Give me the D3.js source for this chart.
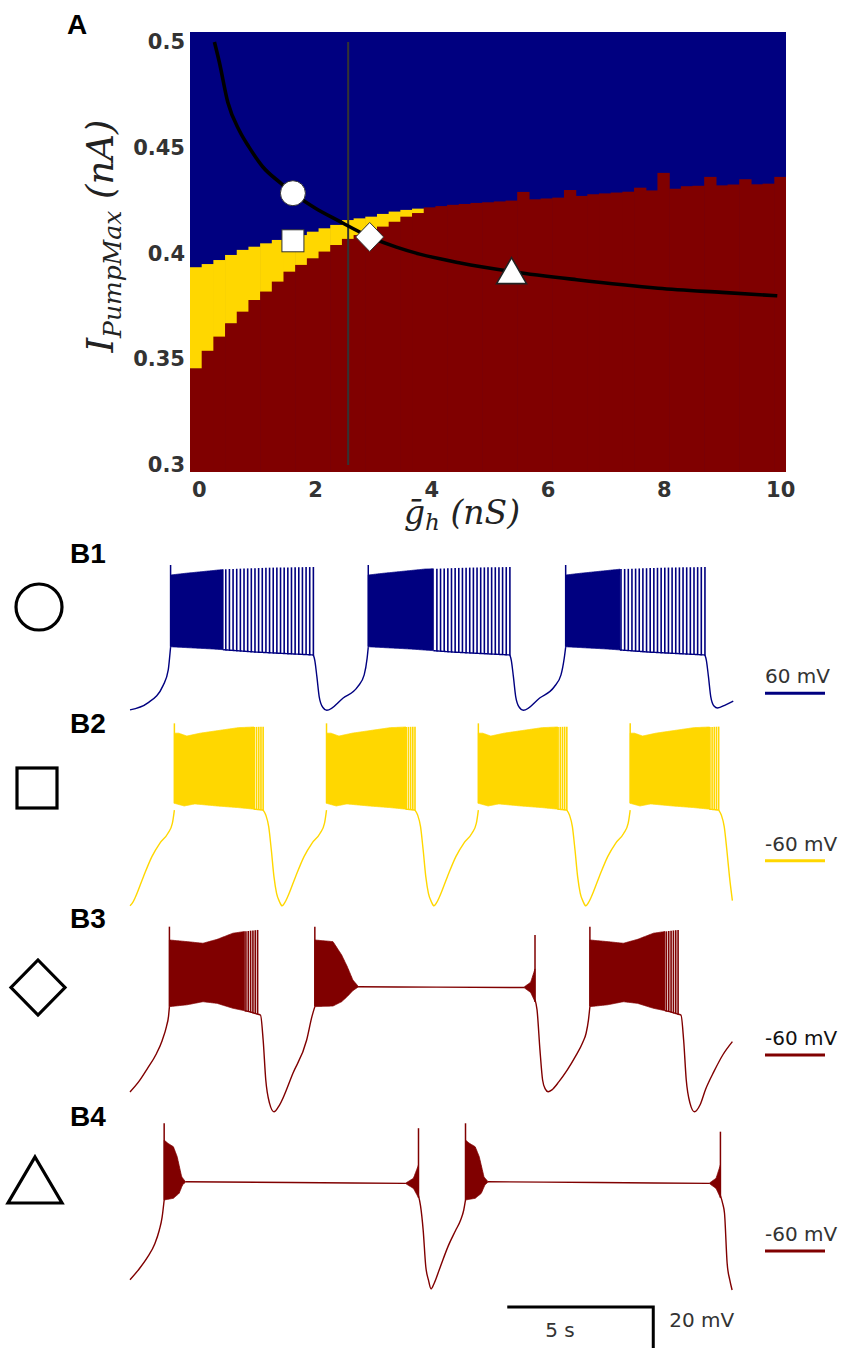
<!DOCTYPE html>
<html><head><meta charset="utf-8">
<script src="https://cdn.jsdelivr.net/npm/d3@7"></script>
<style>body{margin:0;background:#fff}svg{display:block}</style>
</head><body>
<svg id="chart" width="851" height="1355"></svg>
<script>
// ================= PANEL A DATA =================
const ghGrid = [0,0.2,0.4,0.6,0.8,1,1.2,1.4,1.6,1.8,2,2.2,2.4,2.6,2.8,3,3.2,3.4,3.6,3.8,4,4.2,4.4,4.6,4.8,5,5.2,5.4,5.6,5.8,6,6.2,6.4,6.6,6.8,7,7.2,7.4,7.6,7.8,8,8.2,8.4,8.6,8.8,9,9.2,9.4,9.6,9.8,10];
// upper edge of the red (maroon) region for each gh column (nA)
const redTop = [0.3457,0.3540,0.3607,0.3670,0.3725,0.3780,0.3820,0.3867,0.3914,0.3946,0.3977,0.4009,0.4040,0.4069,0.4087,0.4103,0.4127,0.4150,0.4174,0.4191,
  0.4218,0.4224,0.4230,0.4234,0.4239,0.4242,0.4246,0.4250,0.4291,0.4256,0.4260,0.4264,0.4300,0.4272,0.4280,0.4284,0.4288,0.4292,0.4311,0.4298,
  0.4381,0.4306,0.4318,0.4320,0.4362,0.4322,0.4326,0.4351,0.4327,0.4330,0.4362];
// upper edge of the yellow region (first columns only)
const yellowTop = [0.3935,0.3950,0.3969,0.3993,0.4017,0.4032,0.4048,0.4064,0.4077,0.4087,0.4103,0.4119,0.4135,0.4158,0.4166,0.4174,0.4187,0.4198,0.4206,0.4212];
// black iso-curve
const isoCurve = [[0.27,0.500],[0.35,0.491],[0.5,0.4715],[0.7,0.458],[0.86,0.4505],[1.1,0.441],[1.4,0.4335],[1.62,0.4285],[2.0,0.4215],[2.4,0.4155],[2.93,0.408],[3.4,0.4030],[3.8,0.3997],[4.5,0.3955],[5.4,0.3914],[6.5,0.3876],[7.9,0.3836],[9.0,0.3816],[9.95,0.3800]];
const circlePt = [1.62, 0.4285];
const squarePt = [1.62, 0.4060];
const diamondPt = [2.94, 0.4078];
const trianglePt = [5.38, 0.3900];
const vLineGh = 2.57;
const xTicks = [0,2,4,6,8,10];
const yTicks = [0.3,0.35,0.4,0.45,0.5];
const yTickLabels = ["0.3","0.35","0.4","0.45","0.5"];

// ================= PANEL B DATA (t in s, V in mV) =================
// B1
const b1Segs = [
  [[0,-68.1],[0.6,-64.8],[1.14,-56],[1.31,-48.6],[1.37,-40.5],[1.39,-37.5]],
  [[6.28,-41.3],[6.33,-44],[6.4,-51.9],[6.48,-61.7],[6.6,-66.8],[6.74,-68.3],[7.3,-62.3],[7.8,-56.8],[8.02,-51],[8.12,-43],[8.16,-37.5]],
  [[13.01,-41.3],[13.06,-44],[13.13,-51.9],[13.21,-61.7],[13.33,-66.8],[13.47,-68.3],[14.03,-62.3],[14.53,-56.8],[14.76,-51],[14.87,-43],[14.92,-37.5]],
  [[19.69,-41.3],[19.74,-44],[19.81,-51.9],[19.89,-61.7],[20.0,-66.2],[20.12,-67.2],[20.4,-65.6],[20.66,-63.8]]
];
const b1Bursts = [[1.39,3.19,6.28],[8.16,10.39,13.01],[14.92,16.78,19.69]];
const b1Top = [[0,-2.3],[0.1,-1.5],[0.4,0.6],[0.7,1.3],[1,1.6]];
const b1Bot = [[0,-37.3],[0.3,-38.4],[0.6,-39.9],[1,-41.3]];
const b1Peak = 2.6, b1Isi = 0.125;

// B2
const b2Segs = [
  [[0,-82.0],[0.09,-80.5],[0.19,-77.6],[0.46,-67.8],[0.75,-58.0],[1.02,-51.5],[1.3,-46.6],[1.45,-41.8],[1.52,-35.3]],
  [[4.56,-35.3],[4.65,-37.7],[4.75,-43.4],[4.84,-54.8],[4.93,-67.8],[5.02,-75.9],[5.12,-80.0],[5.21,-82.0],[5.3,-80.5],[5.4,-77.6],[5.67,-67.8],[5.96,-58.0],[6.23,-51.5],[6.51,-46.6],[6.66,-41.8],[6.73,-35.3]],
  [[9.76,-35.3],[9.85,-37.7],[9.95,-43.4],[10.04,-54.8],[10.13,-67.8],[10.22,-75.9],[10.32,-80.0],[10.41,-82.0],[10.5,-80.5],[10.6,-77.6],[10.87,-67.8],[11.16,-58.0],[11.43,-51.5],[11.71,-46.6],[11.86,-41.8],[11.93,-35.3]],
  [[14.96,-35.3],[15.05,-37.7],[15.15,-43.4],[15.24,-54.8],[15.33,-67.8],[15.42,-75.9],[15.52,-80.0],[15.61,-82.0],[15.7,-80.5],[15.8,-77.6],[16.07,-67.8],[16.36,-58.0],[16.63,-51.5],[16.91,-46.6],[17.06,-41.8],[17.13,-35.3]],
  [[20.16,-35.3],[20.25,-37.7],[20.35,-43.4],[20.44,-54.8],[20.53,-67.8],[20.63,-79.5]]
];
const b2Bursts = [[1.52,4.25,4.56],[6.73,9.45,9.76],[11.93,14.65,14.96],[17.13,19.85,20.16]];
const b2Top = [[0,2.2],[0.05,2.2],[0.14,0.8],[0.29,2.2],[0.48,3.4],[0.72,4.9],[1,5.4]];
const b2Bot = [[0,-32.0],[0.11,-33.3],[0.23,-32.3],[0.48,-33.3],[0.72,-34.1],[1,-35.3]];
const b2Peak = 7.0, b2Isi = 0.075;

// B3
const b3Segs = [
  [[0,-78],[0.3,-73],[0.6,-66.5],[0.9,-59.5],[1.1,-53],[1.25,-46],[1.32,-41],[1.35,-36.4]],
  [[4.37,-40.1],[4.47,-40.5],[4.56,-52.7],[4.65,-72.2],[4.78,-83.6],[4.93,-87.7],[5.12,-84.4],[5.58,-68.9],[6.05,-52.7],[6.23,-41.3],[6.33,-36.4]],
  [[7.81,-26.7],[10.5,-26.9],[13.5,-27.1]],
  [[13.87,-33],[13.94,-38],[14.04,-57.6],[14.13,-72.2],[14.22,-76.5],[14.32,-77.9],[14.45,-77],[14.69,-73.0],[15.25,-60.8],[15.5,-54],[15.62,-49.4],[15.7,-43],[15.75,-36.4]],
  [[18.77,-40.1],[18.87,-40.5],[18.96,-52.7],[19.05,-72.2],[19.18,-83.6],[19.33,-87.7],[19.52,-84.4],[19.71,-76.8],[20.0,-68],[20.3,-60],[20.63,-53.5]]
];
const b3Bursts = [[1.35,3.92,4.37],[15.75,18.32,18.77]];
const b3Top = [[0,-3.9],[0.2,-4.7],[0.38,-5.5],[0.54,-3.6],[0.72,-0.6],[0.91,0.6],[1,1.0]];
const b3Bot = [[0,-36.4],[0.2,-35.5],[0.38,-34.0],[0.54,-34.8],[0.72,-37.2],[0.91,-38.9],[1,-40.1]];
const b3Peak = 2.6, b3Isi = 0.08;
const b3DecayBursts = [[6.33,7.81]];
const b3DecayTop = [[0,-3.9],[0.42,-4.7],[0.62,-11.2],[0.75,-16.9],[0.88,-23.4],[1,-26.4]];
const b3DecayBot = [[0,-36.4],[0.42,-36.1],[0.62,-34.0],[0.75,-31.5],[0.88,-28.6],[1,-26.9]];
const b3EndBursts = [[13.5,13.87]];
const b3EndPeaks = [-1.5];
const endTop = [[0,-26.8],[0.6,-24.5],[1,-18]];
const endBot = [[0,-27.2],[0.6,-29.5],[1,-34]];

// B4
const b4Segs = [
  [[0,-74],[0.3,-69],[0.6,-63],[0.85,-56.5],[1.0,-50],[1.1,-43.5],[1.17,-35.1]],
  [[1.9,-26.2],[5.5,-26.6],[9.45,-27.0]],
  [[9.88,-33],[9.95,-38],[10.04,-49.8],[10.13,-67.7],[10.22,-74.1],[10.31,-78.5],[10.41,-76],[10.62,-68],[10.9,-57.5],[11.15,-50],[11.32,-45],[11.43,-40],[11.49,-35.1]],
  [[12.26,-26.2],[16,-26.6],[19.85,-27.0]],
  [[20.22,-33],[20.3,-37],[20.36,-41.6],[20.45,-66],[20.54,-74.1],[20.62,-79]]
];
const b4DecayBursts = [[1.17,1.90],[11.49,12.26]];
const b4DecayTop = [[0,-5.9],[0.18,-7.5],[0.43,-9.1],[0.61,-14.0],[0.82,-23.8],[1,-26.2]];
const b4DecayBot = [[0,-35.1],[0.43,-34.3],[0.7,-31.9],[0.86,-27.8],[1,-26.4]];
const b4Peak = 2.3;
const b4EndBursts = [[9.45,9.88],[19.85,20.22]];
const b4EndPeaks = [-0.1,-1.8];

const scaleBarT = [12.92, 17.92];   // 5 s
const scaleBarMV = 20;

// ================= DRAW =================
const svg = d3.select('#chart');
const blueC = '#000080', yellowC = '#FFD700', redC = '#800000';

// ---- Panel A ----
const xA = d3.scaleLinear().domain([-0.15, 10.1]).range([190, 786]);
const yA = d3.scaleLinear().domain([0.2967, 0.5047]).range([472, 32]);
const xBand = d3.scaleBand().domain(ghGrid).range([190, 786]).padding(0);
const gA = svg.append('g');
gA.append('rect').attr('x', 190).attr('y', yA(0.5047)).attr('width', 596).attr('height', yA(0.2967) - yA(0.5047)).attr('fill', blueC);
ghGrid.forEach((g, i) => {
  if (i < yellowTop.length) {
    gA.append('rect').attr('x', xBand(g)).attr('width', xBand.bandwidth() + 0.6)
      .attr('y', yA(yellowTop[i])).attr('height', yA(redTop[i]) - yA(yellowTop[i]) + 0.5).attr('fill', yellowC);
  }
  gA.append('rect').attr('x', xBand(g)).attr('width', xBand.bandwidth() + (i < ghGrid.length - 1 ? 0.6 : 0))
    .attr('y', yA(redTop[i])).attr('height', yA(0.2967) - yA(redTop[i])).attr('fill', redC);
});
gA.append('line').attr('x1', xA(vLineGh)).attr('x2', xA(vLineGh)).attr('y1', yA(0.5)).attr('y2', yA(0.3))
  .attr('stroke', '#333').attr('stroke-width', 2);
gA.append('path').attr('d', d3.line().x(d => xA(d[0])).y(d => yA(d[1])).curve(d3.curveMonotoneX)(isoCurve))
  .attr('fill', 'none').attr('stroke', '#000').attr('stroke-width', 3.6);
const mk = {fill: '#fff', stroke: '#333', sw: 1};
gA.append('circle').attr('cx', xA(circlePt[0])).attr('cy', yA(circlePt[1])).attr('r', 12.5)
  .attr('fill', mk.fill).attr('stroke', mk.stroke).attr('stroke-width', mk.sw);
gA.append('rect').attr('x', xA(squarePt[0]) - 11).attr('y', yA(squarePt[1]) - 11).attr('width', 22).attr('height', 22)
  .attr('fill', mk.fill).attr('stroke', mk.stroke).attr('stroke-width', mk.sw);
{
  const cx = xA(diamondPt[0]), cy = yA(diamondPt[1]);
  gA.append('path').attr('d', `M${cx},${cy-14.5}L${cx+14},${cy}L${cx},${cy+14.5}L${cx-14},${cy}Z`)
    .attr('fill', mk.fill).attr('stroke', mk.stroke).attr('stroke-width', mk.sw);
  const tx = xA(trianglePt[0]), ty = yA(trianglePt[1]);
  gA.append('path').attr('d', `M${tx},${ty-17}L${tx+15},${ty+9}L${tx-15},${ty+9}Z`)
    .attr('fill', mk.fill).attr('stroke', '#222').attr('stroke-width', 1.6);
}
// axes
const axY = d3.axisLeft(yA).tickValues(yTicks).tickFormat((d, i) => yTickLabels[i]).tickSize(0).tickPadding(5);
const gy = svg.append('g').attr('transform', 'translate(190,0)').call(axY);
gy.select('.domain').remove();
gy.selectAll('text').attr('font-family', 'DejaVu Sans').attr('font-weight', 'bold').attr('font-size', 21).attr('fill', '#333');
const axX = d3.axisBottom(xA).tickValues(xTicks).tickFormat(d3.format('d')).tickSize(0).tickPadding(10);
const gx = svg.append('g').attr('transform', 'translate(0,472)').call(axX);
gx.select('.domain').remove();
gx.selectAll('text').attr('font-family', 'DejaVu Sans').attr('font-weight', 'bold').attr('font-size', 21).attr('fill', '#333');

// axis titles
const xt = svg.append('text').attr('x', 462).attr('y', 524).attr('text-anchor', 'middle')
  .attr('font-family', 'DejaVu Serif').attr('font-style', 'italic').attr('font-size', 33).attr('fill', '#222');
xt.append('tspan').text('\u1E21');
xt.append('tspan').attr('font-size', 23).attr('dy', 6).text('h');
xt.append('tspan').attr('dy', -6).text(' (nS)');
const yt = svg.append('text').attr('transform', 'translate(113,236) rotate(-90)').attr('text-anchor', 'middle')
  .attr('font-family', 'DejaVu Serif').attr('font-style', 'italic').attr('font-size', 37).attr('fill', '#222');
yt.append('tspan').text('I');
yt.append('tspan').attr('font-size', 25).attr('dy', 8).text('PumpMax');
yt.append('tspan').attr('dy', -8).text(' (nA)');

svg.append('text').attr('x', 67).attr('y', 34).attr('font-family', 'Liberation Sans').attr('font-weight', 'bold').attr('font-size', 28).text('A');

// ---- Panel B ----
const tX = d3.scaleLinear().domain([0, 20]).range([130, 714]);
const mvPx = 2.05;
const refY = [693.3, 860.7, 1055, 1251];
const vScales = refY.map(r => d3.scaleLinear().domain([-60, 0]).range([r, r - 60 * mvPx]));

function envScale(env) { return d3.scaleLinear().domain(env.map(d => d[0])).range(env.map(d => d[1])).clamp(true); }
function drawSegs(g, vS, col, segs) {
  const ln = d3.line().x(d => tX(d[0])).y(d => vS(d[1])).curve(d3.curveMonotoneX);
  segs.forEach(s => g.append('path').attr('d', ln(s)).attr('fill', 'none').attr('stroke', col).attr('stroke-width', 1.4));
}
function drawBurst(g, vS, col, b, topEnv, botEnv, peak, isi) {
  const t0 = b[0], tD = b[1], t1 = b.length > 2 ? b[2] : b[1];
  const top = envScale(topEnv), bot = envScale(botEnv);
  const fr = t => (t - t0) / (t1 - t0);
  const n = Math.max(2, Math.ceil((tD - t0) / 0.02));
  const ts = d3.range(n + 1).map(k => t0 + (tD - t0) * k / n);
  g.append('path').attr('d', d3.area().x(t => tX(t)).y0(t => vS(bot(fr(t)))).y1(t => vS(top(fr(t))))(ts))
    .attr('fill', col).attr('stroke', col).attr('stroke-width', 0.8);
  if (peak != null) {
    g.append('line').attr('x1', tX(t0)).attr('x2', tX(t0)).attr('y1', vS(bot(0))).attr('y2', vS(peak))
      .attr('stroke', col).attr('stroke-width', 1.5);
  }
  if (t1 - tD > 1e-6) {
    const m = Math.ceil((t1 - tD) / 0.02);
    const tb = d3.range(m + 1).map(k => tD + (t1 - tD) * k / m);
    g.append('path').attr('d', d3.line().x(t => tX(t)).y(t => vS(bot(fr(t))))(tb)).attr('fill', 'none').attr('stroke', col).attr('stroke-width', 1.4);
    for (let t = t1; t > tD; t -= isi) {
      g.append('line').attr('x1', tX(t)).attr('x2', tX(t)).attr('y1', vS(bot(fr(t))) + 0.5).attr('y2', vS(top(fr(t))))
        .attr('stroke', col).attr('stroke-width', 1.6);
    }
  }
}
function drawEnd(g, vS, col, b, peak) {
  drawBurst(g, vS, col, [b[0], b[1]], endTop, endBot, null, 0);
  g.append('line').attr('x1', tX(b[1])).attr('x2', tX(b[1])).attr('y1', vS(-34)).attr('y2', vS(peak))
    .attr('stroke', col).attr('stroke-width', 1.5);
}

const gB = svg.append('g');
// B1
drawSegs(gB, vScales[0], blueC, b1Segs);
b1Bursts.forEach(b => drawBurst(gB, vScales[0], blueC, b, b1Top, b1Bot, b1Peak, b1Isi));
// B2
drawSegs(gB, vScales[1], yellowC, b2Segs);
b2Bursts.forEach(b => drawBurst(gB, vScales[1], yellowC, b, b2Top, b2Bot, b2Peak, b2Isi));
// B3
drawSegs(gB, vScales[2], redC, b3Segs);
b3Bursts.forEach(b => drawBurst(gB, vScales[2], redC, b, b3Top, b3Bot, b3Peak, b3Isi));
b3DecayBursts.forEach(b => drawBurst(gB, vScales[2], redC, b, b3DecayTop, b3DecayBot, b3Peak, 0));
b3EndBursts.forEach((b, i) => drawEnd(gB, vScales[2], redC, b, b3EndPeaks[i]));
// B4
drawSegs(gB, vScales[3], redC, b4Segs);
b4DecayBursts.forEach(b => drawBurst(gB, vScales[3], redC, b, b4DecayTop, b4DecayBot, b4Peak, 0));
b4EndBursts.forEach((b, i) => drawEnd(gB, vScales[3], redC, b, b4EndPeaks[i]));

// reference (-60 mV) markers
const refLabels = ['60 mV', '-60 mV', '-60 mV', '-60 mV'];
const refColors = [blueC, yellowC, redC, redC];
refY.forEach((r, i) => {
  const y = vScales[i](-60);
  gB.append('line').attr('x1', 765).attr('x2', 825).attr('y1', y).attr('y2', y).attr('stroke', refColors[i]).attr('stroke-width', 3);
  gB.append('text').attr('x', 765).attr('y', y - 10).attr('font-family', 'DejaVu Sans').attr('font-size', 20)
    .attr('fill', i === 2 ? '#111' : '#333').text(refLabels[i]);
});

// panel labels & symbols
const bLabels = ['B1', 'B2', 'B3', 'B4'];
const bLabelY = [563, 733, 928, 1126];
bLabels.forEach((t, i) => svg.append('text').attr('x', 70).attr('y', bLabelY[i]).attr('font-family', 'Liberation Sans')
  .attr('font-weight', 'bold').attr('font-size', 28).attr('fill', '#000').text(t));
const sym = svg.append('g').attr('fill', 'none').attr('stroke', '#000').attr('stroke-width', 3.2);
sym.append('circle').attr('cx', 39).attr('cy', 607).attr('r', 23);
sym.append('rect').attr('x', 17).attr('y', 768).attr('width', 40).attr('height', 40);
sym.append('path').attr('d', 'M38,960L65,987.5L38,1015L11,987.5Z');
sym.append('path').attr('d', 'M35,1157L62,1203L8,1203Z');

// scale bar
const sbY = 1307;
const sbX1 = tX(scaleBarT[0]), sbX2 = tX(scaleBarT[1]);
const sbH = vScales[3](-60) - vScales[3](-60 + scaleBarMV);
svg.append('path').attr('d', `M${sbX1},${sbY}H${sbX2}V${sbY + sbH}`).attr('fill', 'none').attr('stroke', '#000').attr('stroke-width', 3);
svg.append('text').attr('x', 560).attr('y', 1337).attr('text-anchor', 'middle').attr('font-family', 'DejaVu Sans')
  .attr('font-size', 20).attr('fill', '#333').text('5 s');
svg.append('text').attr('x', sbX2 + 16).attr('y', 1327).attr('font-family', 'DejaVu Sans')
  .attr('font-size', 20).attr('fill', '#333').text('20 mV');
</script>
</body></html>
